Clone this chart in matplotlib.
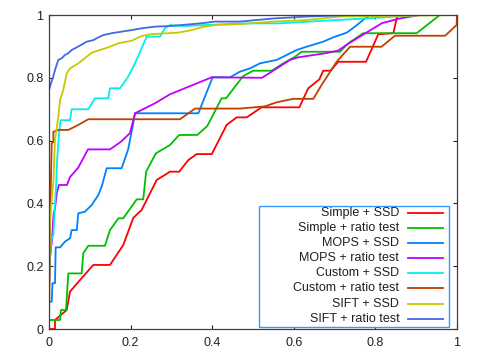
import matplotlib
matplotlib.use('Agg')
import matplotlib.pyplot as plt
from matplotlib.patches import Rectangle

plt.rcParams['font.family'] = ['Liberation Sans', 'DejaVu Sans']

labels = ['Simple + SSD', 'Simple + ratio test', 'MOPS + SSD', 'MOPS + ratio test',
          'Custom + SSD', 'Custom + ratio test', 'SIFT + SSD', 'SIFT + ratio test']
colors = ['#ff0000', '#00c000', '#0080ff', '#c000ff', '#00eeee', '#c04000', '#c8c800', '#4169e1']

# ROC curves: false positive rate (x) / true positive rate (y)
simple_ssd_x = [0, 0.0147, 0.0147, 0.0434, 0.0515, 0.076, 0.1086, 0.1495, 0.182, 0.2066, 0.227, 0.264,
                0.2966, 0.319, 0.3414, 0.362, 0.399, 0.4355, 0.46, 0.4846, 0.521, 0.6135, 0.6355, 0.6625,
                0.672, 0.69, 0.709, 0.777, 0.807, 0.844, 0.852, 0.856, 1]
simple_ssd_y = [0, 0, 0.0287, 0.0605, 0.119, 0.156, 0.204, 0.204, 0.2675, 0.354, 0.379, 0.4745,
                0.501, 0.501, 0.538, 0.557, 0.557, 0.65, 0.674, 0.674, 0.706, 0.706, 0.7666, 0.795,
                0.8226, 0.8226, 0.851, 0.851, 0.9385, 0.942, 0.989, 1, 1]

simple_ratio_x = [0, 0, 0.027, 0.0294, 0.0417, 0.0473, 0.08, 0.084, 0.0963, 0.137, 0.1495, 0.17, 0.182,
                  0.215, 0.231, 0.238, 0.262, 0.2966, 0.319, 0.3635, 0.388, 0.423, 0.434, 0.476, 0.5007,
                  0.546, 0.574, 0.603, 0.619, 0.713, 0.734, 0.77, 0.901, 0.958, 1]
simple_ratio_y = [0, 0.0287, 0.0287, 0.0605, 0.0605, 0.177, 0.177, 0.241, 0.265, 0.265, 0.315, 0.3525,
                  0.3525, 0.413, 0.413, 0.501, 0.5595, 0.586, 0.618, 0.618, 0.6465, 0.7347, 0.7347,
                  0.8057, 0.8226, 0.8226, 0.846, 0.867, 0.883, 0.883, 0.91, 0.942, 0.942, 1, 1]

mops_ssd_x = [0, 0, 0.0066, 0.0086, 0.0147, 0.0164, 0.027, 0.039, 0.0515, 0.0556, 0.068, 0.0718, 0.088,
              0.1047, 0.121, 0.129, 0.1414, 0.178, 0.194, 0.2066, 0.2108, 0.366, 0.401, 0.4436, 0.468,
              0.4926, 0.517, 0.558, 0.607, 0.6316, 0.672, 0.697, 0.73, 0.75, 0.7745, 0.791, 1]
mops_ssd_y = [0, 0.087, 0.087, 0.146, 0.146, 0.26, 0.26, 0.278, 0.289, 0.315, 0.315, 0.3685, 0.3736,
              0.395, 0.427, 0.453, 0.512, 0.512, 0.572, 0.656, 0.687, 0.687, 0.8016, 0.8016, 0.8195,
              0.83, 0.846, 0.857, 0.8885, 0.899, 0.915, 0.929, 0.944, 0.963, 0.989, 1, 1]

mops_ratio_x = [0, 0, 0.0025, 0.0074, 0.011, 0.0147, 0.0196, 0.0245, 0.0441, 0.0515, 0.0711, 0.0956,
                0.1495, 0.1765, 0.1985, 0.2108, 0.2598, 0.2966, 0.3988, 0.522, 0.55, 0.5907, 0.61, 0.681,
                0.709, 0.735, 0.7745, 0.816, 0.86, 0.909, 1]
mops_ratio_y = [0, 0.12, 0.229, 0.283, 0.363, 0.385, 0.436, 0.4586, 0.4586, 0.484, 0.5127, 0.572,
                0.572, 0.5965, 0.624, 0.687, 0.719, 0.7475, 0.8016, 0.8, 0.823, 0.857, 0.865, 0.879,
                0.887, 0.91, 0.941, 0.974, 0.989, 1, 1]

custom_ssd_x = [0, 0, 0.0025, 0.0066, 0.0107, 0.0147, 0.0172, 0.0196, 0.0237, 0.027, 0.0286, 0.0515,
                0.0556, 0.0963, 0.1127, 0.1453, 0.1495, 0.174, 0.194, 0.2108, 0.2395, 0.272, 0.284,
                0.2966, 0.33, 0.47, 0.566, 0.705, 0.779, 0.844, 0.909, 1]
custom_ssd_y = [0, 0.16, 0.23, 0.29, 0.3, 0.4, 0.45, 0.53, 0.61, 0.65, 0.665, 0.665,
                0.6997, 0.6997, 0.7347, 0.7347, 0.7666, 0.7666, 0.8035, 0.846, 0.931, 0.931, 0.9576,
                0.968, 0.965, 0.973, 0.9735, 0.984, 0.989, 0.9947, 1, 1]

custom_ratio_x = [0, 0.002, 0.0066, 0.0107, 0.0107, 0.0229, 0.0474, 0.0719, 0.0963, 0.321, 0.358, 0.468,
                  0.529, 0.558, 0.599, 0.648, 0.668, 0.705, 0.738, 0.815, 0.848, 0.971, 0.999, 1]
custom_ratio_y = [0, 0.3, 0.591, 0.5965, 0.628, 0.634, 0.634, 0.65, 0.668, 0.668, 0.702, 0.702,
                  0.709, 0.722, 0.733, 0.733, 0.777, 0.851, 0.899, 0.899, 0.934, 0.934, 0.968, 1]

sift_ssd_x = [0, 0.001, 0.0025, 0.0066, 0.0106, 0.0147, 0.0228, 0.027, 0.035, 0.0434, 0.0515, 0.0718,
              0.0924, 0.1047, 0.125, 0.1495, 0.17, 0.2027, 0.227, 0.2517, 0.317, 0.35, 0.374, 0.407,
              0.468, 0.549, 0.632, 0.713, 0.836, 1]
sift_ssd_y = [0, 0.25, 0.347, 0.41, 0.466, 0.602, 0.676, 0.729, 0.761, 0.814, 0.83, 0.846,
              0.867, 0.88, 0.8885, 0.899, 0.91, 0.918, 0.933, 0.939, 0.944, 0.952, 0.961, 0.968,
              0.971, 0.979, 0.984, 0.995, 0.997, 1]

sift_ratio_x = [0, 0, 0.0066, 0.0105, 0.0147, 0.0228, 0.031, 0.039, 0.047, 0.0556, 0.068, 0.082, 0.0924,
                0.1086, 0.12, 0.133, 0.1537, 0.178, 0.2027, 0.227, 0.26, 0.3, 0.333, 0.374, 0.407, 0.468,
                0.509, 0.55, 0.632, 0.738, 1]
sift_ratio_y = [0, 0.761, 0.79, 0.804, 0.825, 0.857, 0.862, 0.8726, 0.878, 0.8885, 0.897, 0.907, 0.915,
                0.92, 0.928, 0.936, 0.942, 0.947, 0.952, 0.9576, 0.963, 0.965, 0.969, 0.9736, 0.979, 0.979,
                0.984, 0.989, 0.995, 1, 1]

xs = [simple_ssd_x, simple_ratio_x, mops_ssd_x, mops_ratio_x,
      custom_ssd_x, custom_ratio_x, sift_ssd_x, sift_ratio_x]
ys = [simple_ssd_y, simple_ratio_y, mops_ssd_y, mops_ratio_y,
      custom_ssd_y, custom_ratio_y, sift_ssd_y, sift_ratio_y]

ticks = [0, 0.2, 0.4, 0.6, 0.8, 1]
tick_labels = ['0', '0.2', '0.4', '0.6', '0.8', '1']

fig = plt.figure(figsize=(4.8, 3.6), dpi=100)
ax = fig.add_axes([49/480, 1-329/360, 408/480, 314/360])

for x, y, c, lab in zip(xs, ys, colors, labels):
    ax.plot(x, y, color=c, linewidth=1.3, label=lab)

ax.set_xlim(0, 1)
ax.set_ylim(0, 1)
ax.set_xticks(ticks)
ax.set_xticklabels(tick_labels)
ax.set_yticks(ticks)
ax.set_yticklabels(tick_labels)
ax.tick_params(direction='in', length=3, width=0.8, top=True, right=True,
               labelsize=9, colors='#202020')
ax.tick_params(axis='x', pad=6)
ax.tick_params(axis='y', pad=4)
for s in ax.spines.values():
    s.set_color('#404040')
    s.set_linewidth(0.9)

# gnuplot style key: wide box, right-aligned labels, samples on the right
box = Rectangle((0.5147, 0.0064), 0.4653, 0.3853, transform=ax.transAxes,
                facecolor='white', edgecolor='#3399ff', linewidth=1.0, zorder=4)
ax.add_patch(box)
row_top = 0.368
row_step = 0.0478
for i, (c, lab) in enumerate(zip(colors, labels)):
    yy = row_top - i * row_step
    ax.text(0.8586, yy, lab, transform=ax.transAxes, ha='right', va='center',
            fontsize=9, color='#202020', zorder=5)
    ax.plot([0.879, 0.966], [yy, yy], transform=ax.transAxes, color=c,
            linewidth=1.3, zorder=5, clip_on=False)

fig.savefig('out.png', dpi=100)
